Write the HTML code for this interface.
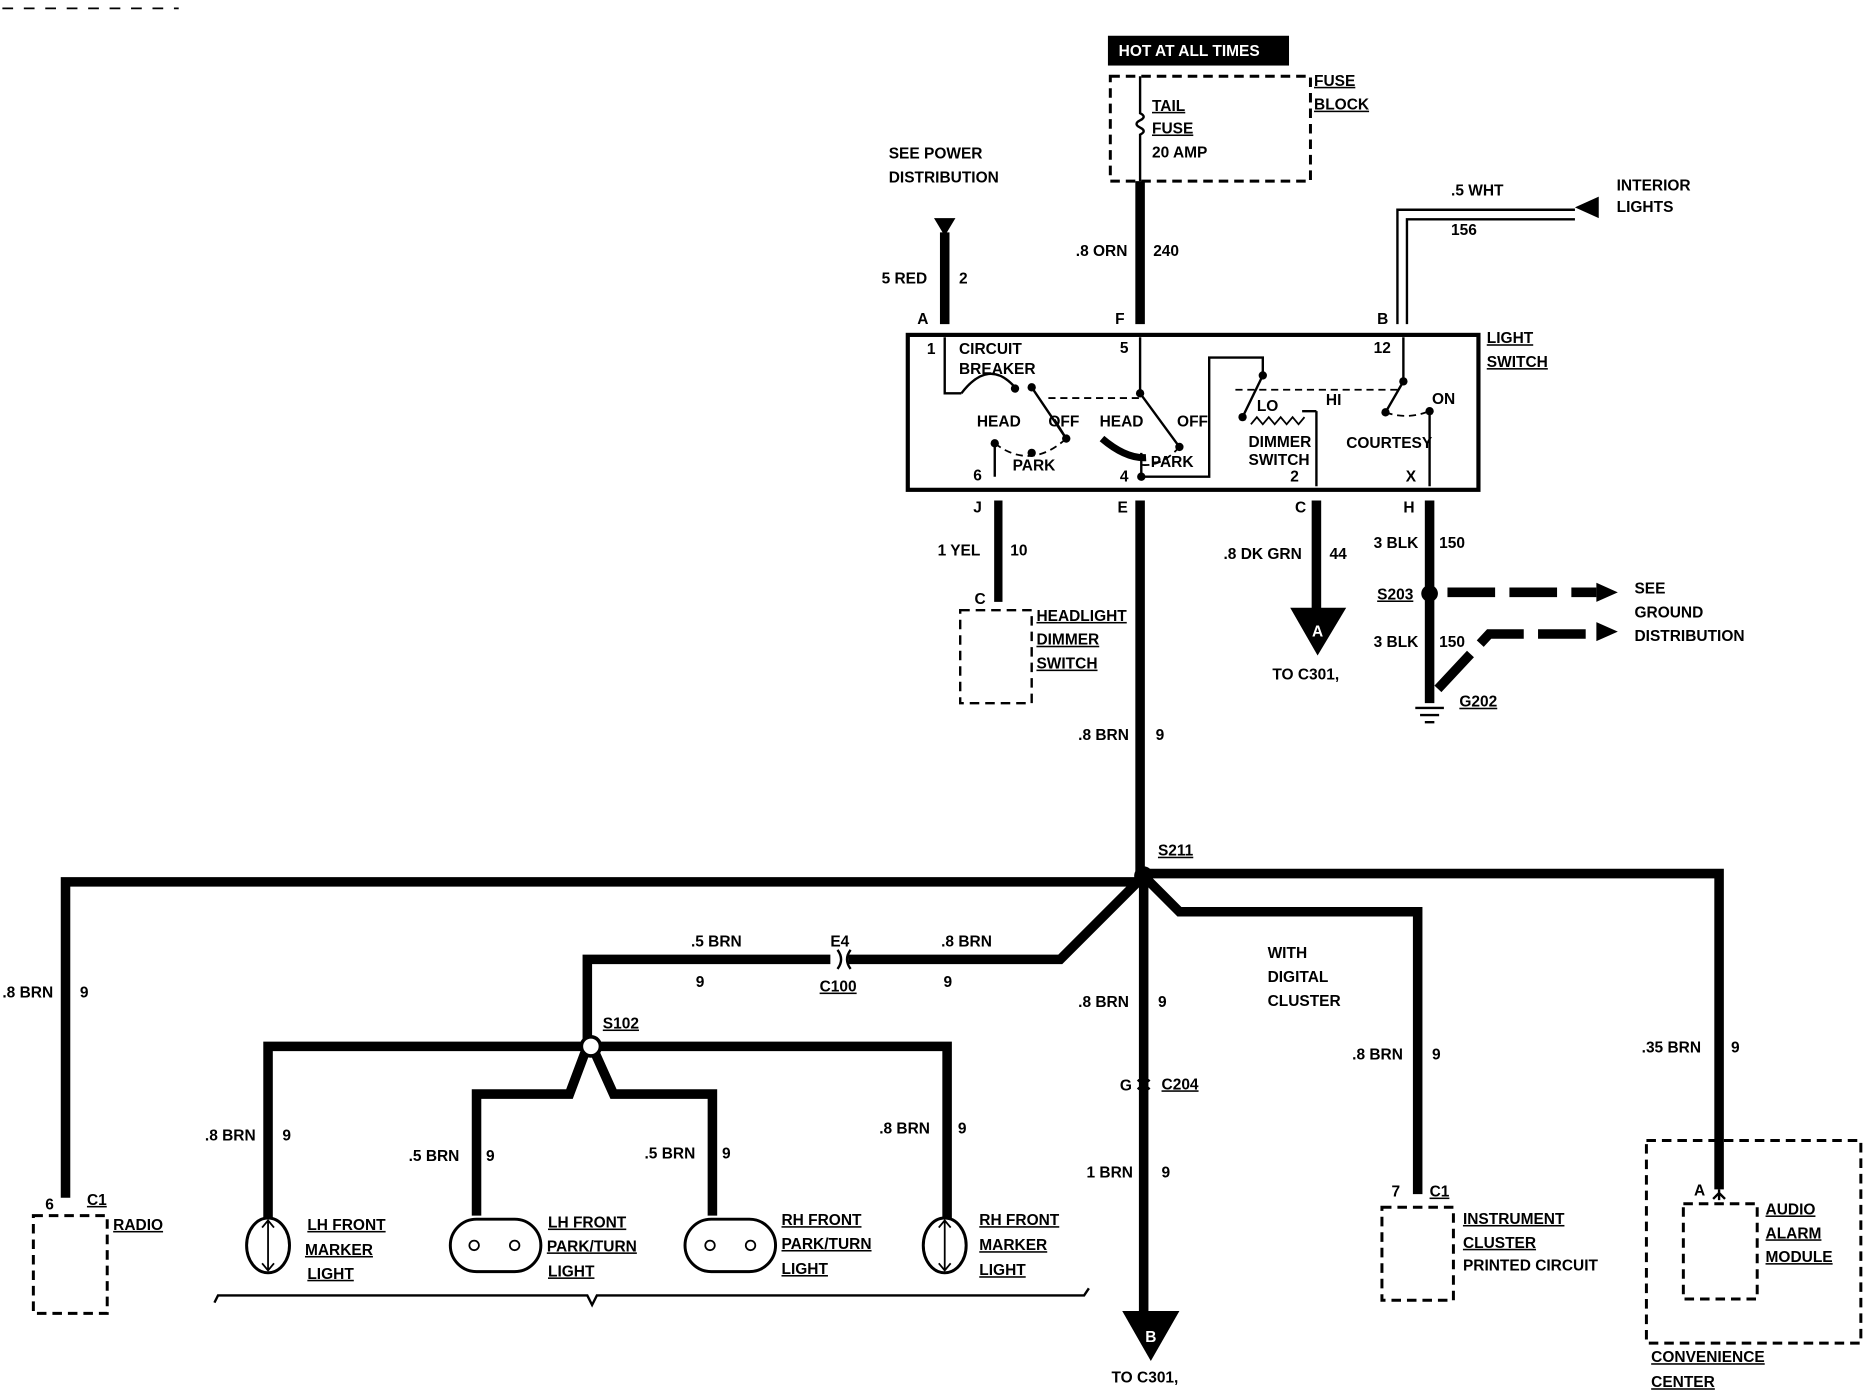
<!DOCTYPE html>
<html><head><meta charset="utf-8"><style>
html,body{margin:0;padding:0;background:#fff;}
svg{display:block}
text{font-family:"Liberation Sans",sans-serif;font-weight:bold;font-size:13px;fill:#000;}
.u{text-decoration:underline}
</style></head><body>
<svg width="1868" height="1392" viewBox="0 0 1568 1168" preserveAspectRatio="none" xmlns="http://www.w3.org/2000/svg">
<g stroke="#000" fill="none">
<!-- top-left dashes -->
<path d="M2 7H150" stroke-width="1.5" stroke-dasharray="9 9"/>
<!-- fuse block -->
<rect x="932" y="64" width="168" height="88" stroke-width="2.5" stroke-dasharray="8 5"/>
<path d="M957 64V95 q6 3 0 6 q-6 3 0 6 q6 3 0 6 V152" stroke-width="2"/>
<!-- main wires top -->
<path d="M957 152V272" stroke-width="8"/>
<path d="M793 195V272" stroke-width="8"/>
<path d="M1173 272V176H1322 M1181 272V184H1322" stroke-width="2"/>
<!-- light switch -->
<rect x="762" y="281" width="479" height="130" stroke-width="3.5"/>
<!-- internal -->
<path d="M793 283V330H807 M957 283V330 M957 330L990 375 M885 352L895 368" stroke-width="2"/>
<path d="M807 330Q830 300 852 325" stroke-width="2"/>
<path d="M866 325L895 368 M835 400V372 M958 400V380 M958 400H1015V300H1060V315 M1060 315L1043 350 M1178 283V320 L1163 346 M1200 345V408 M1105 345V408 M1093 345H1105" stroke-width="2"/>
<path d="M835 372Q865 395 895 368 M990 375Q975 392 958 390 M1037 327H1175 M1163 346Q1180 352 1197 346 M880 334H957" stroke-width="1.5" stroke-dasharray="6 4"/>
<path d="M925 368Q945 385 962 384" stroke-width="6"/>
<path d="M1050 356l5-6 5 6 5-6 5 6 5-6 5 6 5-6 5 6 5-6" stroke-width="1.5"/>
<!-- below switch wires -->
<path d="M838 420V505" stroke-width="7"/>
<rect x="806" y="512" width="60" height="78" stroke-width="2" stroke-dasharray="8 5"/>
<path d="M957 420V735" stroke-width="8"/>
<path d="M1105 420V512" stroke-width="8"/>
<path d="M1200 420V590" stroke-width="8"/>
<path d="M1215 497H1340" stroke-width="8" stroke-dasharray="40 12"/>
<path d="M1207 578L1250 532H1340" stroke-width="8" stroke-dasharray="40 12"/>
<path d="M1188 594H1212 M1192 600H1208 M1196 606H1204" stroke-width="2"/>
<!-- S211 distribution -->
<path d="M55 1005V740H960 M960 733H1443V998 M960 735L890 805H712 M697 805H493V878 M960 735L990 765H1190V1002 M960 735V1100" stroke-width="8"/>
<path d="M225 1022V878H795V1022 M493 878L478 918H400V1020 M497 878L515 918H598V1020" stroke-width="8"/>
<path d="M703 797q6 8 0 16 M714 797q-6 8 0 16" stroke-width="2"/>
<path d="M955 906q5 5 10 0 M955 914q5-5 10 0" stroke-width="2"/>
<!-- lamps -->
<ellipse cx="225" cy="1045" rx="18" ry="23" stroke-width="2.5"/>
<path d="M225 1025V1065 M220 1030l5-6 5 6 M220 1060l5 6 5-6" stroke-width="1.5"/>
<rect x="378" y="1023" width="76" height="44" rx="22" stroke-width="2.5"/>
<rect x="575" y="1023" width="76" height="44" rx="22" stroke-width="2.5"/>
<ellipse cx="793" cy="1045" rx="18" ry="23" stroke-width="2.5"/>
<path d="M793 1025V1065 M788 1030l5-6 5 6 M788 1060l5 6 5-6" stroke-width="1.5"/>
<circle cx="398" cy="1045" r="4" stroke-width="1.5"/><circle cx="432" cy="1045" r="4" stroke-width="1.5"/>
<circle cx="596" cy="1045" r="4" stroke-width="1.5"/><circle cx="630" cy="1045" r="4" stroke-width="1.5"/>
<path d="M180 1093l3-6H493l4 8 4-8H910l4-6" stroke-width="2"/>
<!-- boxes -->
<rect x="28" y="1020" width="62" height="82" stroke-width="2.5" stroke-dasharray="8 5"/>
<rect x="1160" y="1013" width="60" height="78" stroke-width="2.5" stroke-dasharray="8 5"/>
<rect x="1382" y="957" width="180" height="170" stroke-width="2.5" stroke-dasharray="8 5"/>
<rect x="1413" y="1010" width="62" height="80" stroke-width="2.5" stroke-dasharray="8 5"/>
<path d="M1443 998V1007 M1438 1006l5-5 5 5" stroke-width="2"/>
</g>
<!-- filled shapes -->
<g fill="#000">
<rect x="930" y="30" width="152" height="25"/>
<polygon points="784,183 802,183 793,198"/>
<polygon points="1322,174 1342,165 1342,183"/>
<polygon points="1083,510 1130,510 1106,550"/>
<polygon points="942,1100 990,1100 966,1142"/>
<polygon points="1340,489 1358,497 1340,505"/>
<polygon points="1340,522 1358,530 1340,538"/>
<circle cx="960" cy="735" r="8"/>
<circle cx="1200" cy="498" r="7"/>
<circle cx="852" cy="326" r="3.5"/><circle cx="866" cy="325" r="3.5"/><circle cx="895" cy="368" r="3.5"/><circle cx="835" cy="372" r="3.5"/><circle cx="866" cy="380" r="3.5"/>
<circle cx="957" cy="330" r="3.5"/><circle cx="990" cy="375" r="3.5"/><circle cx="958" cy="400" r="3.5"/>
<circle cx="1060" cy="315" r="3.5"/><circle cx="1043" cy="350" r="3.5"/><circle cx="1178" cy="320" r="3.5"/><circle cx="1163" cy="346" r="3.5"/><circle cx="1200" cy="345" r="3.5"/>
</g>
<circle cx="496" cy="878" r="8" fill="#fff" stroke="#000" stroke-width="3"/>
<text x="1106" y="534" fill="#fff" style="fill:#fff" text-anchor="middle" font-size="16">A</text>
<text x="966" y="1126" style="fill:#fff" text-anchor="middle" font-size="16">B</text>
<text x="939" y="47" style="fill:#fff">HOT AT ALL TIMES</text>
<text x="967" y="93" class="u">TAIL</text>
<text x="967" y="112" class="u">FUSE</text>
<text x="967" y="132" font-size="11">20 AMP</text>
<text x="1103" y="72" class="u">FUSE</text><text x="1103" y="92" class="u">BLOCK</text>
<text x="746" y="133">SEE POWER</text><text x="746" y="153">DISTRIBUTION</text>
<text x="903" y="215">.8 ORN</text><text x="968" y="215">240</text>
<text x="740" y="238">5 RED</text><text x="805" y="238">2</text>
<text x="770" y="272">A</text><text x="936" y="272">F</text><text x="1156" y="272">B</text>
<text x="1218" y="164">.5 WHT</text><text x="1218" y="197">156</text>
<text x="1357" y="160">INTERIOR</text><text x="1357" y="178">LIGHTS</text>
<text x="1248" y="288" class="u">LIGHT</text><text x="1248" y="308" class="u">SWITCH</text>
<g font-size="11">
<text x="778" y="297">1</text><text x="805" y="297">CIRCUIT</text><text x="805" y="314">BREAKER</text>
<text x="940" y="296">5</text><text x="1153" y="296">12</text>
<text x="820" y="358">HEAD</text><text x="880" y="358">OFF</text><text x="923" y="358">HEAD</text><text x="988" y="358">OFF</text>
<text x="850" y="395">PARK</text><text x="966" y="392">PARK</text>
<text x="1055" y="345">LO</text><text x="1113" y="340">HI</text><text x="1202" y="339">ON</text>
<text x="1048" y="375">DIMMER</text><text x="1048" y="390">SWITCH</text><text x="1130" y="376">COURTESY</text>
<text x="817" y="403">6</text><text x="940" y="404">4</text><text x="1083" y="404">2</text><text x="1180" y="404">X</text>
</g>
<text x="817" y="430">J</text><text x="938" y="430">E</text><text x="1087" y="430">C</text><text x="1178" y="430">H</text>
<text x="787" y="466">1 YEL</text><text x="848" y="466">10</text>
<text x="818" y="507">C</text>
<text x="870" y="521" class="u">HEADLIGHT</text><text x="870" y="541" class="u">DIMMER</text><text x="870" y="561" class="u">SWITCH</text>
<text x="1027" y="469">.8 DK GRN</text><text x="1116" y="469">44</text>
<text x="1068" y="570">TO C301,</text>
<text x="1153" y="460">3 BLK</text><text x="1208" y="460">150</text>
<text x="1156" y="503" class="u">S203</text>
<text x="1153" y="543">3 BLK</text><text x="1208" y="543">150</text>
<text x="1225" y="593" class="u">G202</text>
<text x="1372" y="498">SEE</text><text x="1372" y="518">GROUND</text><text x="1372" y="538">DISTRIBUTION</text>
<text x="905" y="621">.8 BRN</text><text x="970" y="621">9</text>
<text x="972" y="718" class="u">S211</text>
<text x="2" y="837">.8 BRN</text><text x="67" y="837">9</text>
<text x="580" y="794">.5 BRN</text><text x="790" y="794">.8 BRN</text>
<text x="697" y="794">E4</text><text x="688" y="832" class="u">C100</text>
<text x="584" y="828">9</text><text x="792" y="828">9</text>
<text x="506" y="863" class="u">S102</text>
<text x="905" y="845">.8 BRN</text><text x="972" y="845">9</text>
<text x="1064" y="804">WITH</text><text x="1064" y="824">DIGITAL</text><text x="1064" y="844">CLUSTER</text>
<text x="1135" y="889">.8 BRN</text><text x="1202" y="889">9</text>
<text x="1378" y="883">.35 BRN</text><text x="1453" y="883">9</text>
<text x="940" y="915">G</text><text x="975" y="914" class="u">C204</text>
<text x="912" y="988">1 BRN</text><text x="975" y="988">9</text>
<text x="933" y="1160">TO C301,</text>
<text x="172" y="957">.8 BRN</text><text x="237" y="957">9</text>
<text x="343" y="974">.5 BRN</text><text x="408" y="974">9</text>
<text x="541" y="972">.5 BRN</text><text x="606" y="972">9</text>
<text x="738" y="951">.8 BRN</text><text x="804" y="951">9</text>
<text x="258" y="1032" class="u">LH FRONT</text><text x="256" y="1053" class="u">MARKER</text><text x="258" y="1073" class="u">LIGHT</text>
<text x="460" y="1030" class="u">LH FRONT</text><text x="459" y="1050" class="u">PARK/TURN</text><text x="460" y="1071" class="u">LIGHT</text>
<text x="656" y="1028" class="u">RH FRONT</text><text x="656" y="1048" class="u">PARK/TURN</text><text x="656" y="1069" class="u">LIGHT</text>
<text x="822" y="1028" class="u">RH FRONT</text><text x="822" y="1049" class="u">MARKER</text><text x="822" y="1070" class="u">LIGHT</text>
<text x="38" y="1015">6</text><text x="73" y="1011" class="u">C1</text><text x="95" y="1032" class="u">RADIO</text>
<text x="1168" y="1004">7</text><text x="1200" y="1004" class="u">C1</text>
<text x="1228" y="1027" class="u">INSTRUMENT</text><text x="1228" y="1047" class="u">CLUSTER</text><text x="1228" y="1066">PRINTED CIRCUIT</text>
<text x="1422" y="1003">A</text>
<text x="1482" y="1019" class="u">AUDIO</text><text x="1482" y="1039" class="u">ALARM</text><text x="1482" y="1059" class="u">MODULE</text>
<text x="1386" y="1143" class="u">CONVENIENCE</text><text x="1386" y="1164" class="u">CENTER</text>
</svg>
</body></html>
